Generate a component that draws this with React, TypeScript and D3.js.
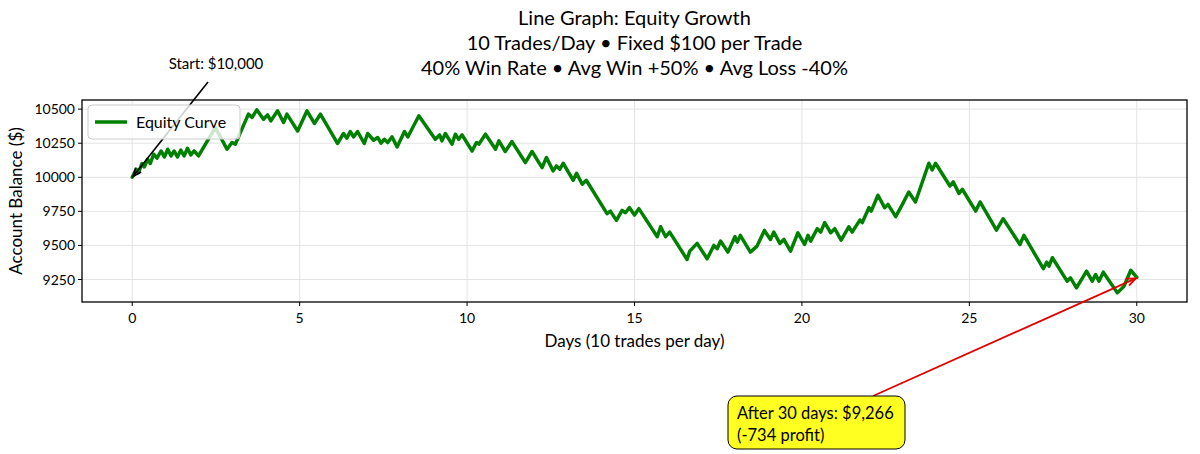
import React from "react";
import * as d3 from "d3";

// ---- data (turning points of the equity curve) ----
const days: number[] = [
  0, 0.12, 0.19, 0.29, 0.36, 0.46, 0.54, 0.64, 0.74, 0.86, 0.96, 1.06, 1.16, 1.25, 1.35, 1.45, 1.55, 1.65, 1.75, 1.85, 1.98,
  2.48, 2.83, 2.98, 3.08, 3.47, 3.58, 3.72,
  3.92, 4.04, 4.14, 4.34, 4.52, 4.62, 4.94, 5.22, 5.44, 5.62, 6.13, 6.31, 6.41, 6.51, 6.61, 6.73, 6.93, 7.03, 7.21, 7.33, 7.43,
  7.53, 7.63, 7.76, 7.91, 8.13, 8.23, 8.56, 9.05, 9.18, 9.25, 9.35, 9.55, 9.65, 9.75, 9.85, 10.15, 10.28, 10.35, 10.55, 10.85, 10.95, 11.14, 11.34,
  11.74, 11.94, 12.24, 12.37, 12.57, 12.67, 12.77, 12.87, 13.17, 13.27, 13.44, 13.56, 14.18, 14.28, 14.46, 14.63, 14.73, 14.85, 15.0, 15.13,
  15.68, 15.78, 15.93, 16.05, 16.57, 16.65, 16.87, 17.17, 17.37, 17.47, 17.57, 17.79, 18.0, 18.07, 18.16, 18.46, 18.66, 18.88, 19.06, 19.16,
  19.34, 19.46, 19.66, 19.88, 20.08, 20.18, 20.26, 20.46, 20.56, 20.68, 20.86, 20.98, 21.17, 21.4, 21.5, 21.73, 21.8, 22.0, 22.07, 22.27, 22.47, 22.57, 22.8, 23.0,
  23.19, 23.39, 23.79, 23.89, 23.99, 24.42, 24.52, 24.69, 24.79, 25.19, 25.32, 25.81, 26.01, 26.51, 26.63,
  27.21, 27.31, 27.38, 27.48, 27.92, 28.02, 28.2, 28.5, 28.67, 28.77, 28.87, 29.0, 29.42, 29.62, 29.82, 30.0,
];
const balances: number[] = [
  10000, 10059, 10035, 10101, 10076, 10132, 10101, 10169, 10140, 10193, 10149, 10206, 10157, 10193, 10149, 10199, 10157, 10213, 10164, 10193, 10157,
  10365, 10206, 10255, 10243, 10463, 10439, 10495,
  10426, 10458, 10414, 10488, 10402, 10463, 10340, 10488, 10395, 10463, 10248, 10321, 10287, 10336, 10296, 10336, 10248, 10321, 10272, 10292, 10250,
  10279, 10255, 10296, 10223, 10336, 10296, 10451, 10279, 10311, 10267, 10321, 10243, 10316, 10279, 10311, 10193, 10255, 10243, 10316, 10206, 10267, 10189, 10262,
  10108, 10189, 10071, 10145, 10047, 10083, 10059, 10103, 9978, 10029, 9949, 9978, 9733, 9752, 9684, 9757, 9740, 9777, 9723, 9770,
  9564, 9637, 9564, 9598, 9397, 9458, 9515, 9402, 9500, 9476, 9532, 9451, 9564, 9524, 9574, 9451, 9495, 9610, 9544, 9598,
  9515, 9544, 9458, 9593, 9507, 9574, 9532, 9623, 9598, 9667, 9593, 9623, 9539, 9637, 9598, 9686, 9667, 9777, 9752, 9868, 9777, 9801, 9711, 9801,
  9892, 9819, 10103, 10054, 10103, 9936, 9966, 9882, 9912, 9752, 9819, 9612, 9696, 9507, 9574,
  9329, 9377, 9348, 9410, 9238, 9262, 9189, 9311, 9238, 9287, 9238, 9304, 9152, 9201, 9318, 9266,
];
const xTicks: number[] = [0, 5, 10, 15, 20, 25, 30];
const yTicks: number[] = [9250, 9500, 9750, 10000, 10250, 10500];
const xLimits: [number, number] = [-1.5, 31.5];
const yLimits: [number, number] = [9085, 10567];
const titleLines: string[] = [
  "Line Graph: Equity Growth",
  "10 Trades/Day • Fixed $100 per Trade",
  "40% Win Rate • Avg Win +50% • Avg Loss -40%",
];
const startDay = 0;
const startValue = 10000;
const endDay = 30;
const endValue = 9266;
const startLabel = "Start: $10,000";
const endLabelLines: string[] = ["After 30 days: $9,266", "(-734 profit)"];
const legendLabel = "Equity Curve";
const xLabel = "Days (10 trades per day)";
const yLabel = "Account Balance ($)";

const FONT = "Lato, 'Noto Sans', sans-serif";
const W = 1200;
const H = 454;
const plot = { left: 82, right: 1187, top: 100, bottom: 302 };

function arrowHead(x1: number, y1: number, x2: number, y2: number, len: number, spread: number) {
  const a = Math.atan2(y2 - y1, x2 - x1);
  const p1 = [x2 - len * Math.cos(a - spread), y2 - len * Math.sin(a - spread)];
  const p2 = [x2 - len * Math.cos(a + spread), y2 - len * Math.sin(a + spread)];
  return `M${p1[0]},${p1[1]} L${x2},${y2} L${p2[0]},${p2[1]}`;
}

export default function App() {
  const x = d3.scaleLinear().domain(xLimits).range([plot.left, plot.right]);
  const y = d3.scaleLinear().domain(yLimits).range([plot.bottom, plot.top]);
  const pts: [number, number][] = days.map((d, i) => [d, balances[i]]);
  const line = d3
    .line<[number, number]>()
    .x((p) => x(p[0]))
    .y((p) => y(p[1]));

  const sx = x(startDay);
  const sy = y(startValue);
  const ex = x(endDay);
  const ey = y(endValue);
  const startFrom: [number, number] = [208, 82];
  const endFrom: [number, number] = [873, 396];

  return (
    <svg
      width={W}
      height={H}
      style={{ position: "absolute", left: 0, top: 0, background: "#fff" }}
      fontFamily={FONT}
    >
      <rect x={0} y={0} width={W} height={H} fill="#fff" />
      {/* title */}
      {titleLines.map((t, i) => (
        <text key={i} x={(plot.left + plot.right) / 2} y={25 + i * 25} textAnchor="middle" fontSize={20} fill="#000">
          {t}
        </text>
      ))}
      {/* grid */}
      {xTicks.map((t) => (
        <line key={"gx" + t} x1={x(t)} x2={x(t)} y1={plot.top} y2={plot.bottom} stroke="#e3e3e3" strokeWidth={1} />
      ))}
      {yTicks.map((t) => (
        <line key={"gy" + t} x1={plot.left} x2={plot.right} y1={y(t)} y2={y(t)} stroke="#e3e3e3" strokeWidth={1} />
      ))}
      {/* equity line */}
      <path d={line(pts) || ""} fill="none" stroke="#008000" strokeWidth={3.5} strokeLinejoin="round" strokeLinecap="round" />
      {/* start annotation arrow */}
      <line x1={startFrom[0]} y1={startFrom[1]} x2={sx + 1} y2={sy - 1} stroke="#000" strokeWidth={1.6} />
      <path d={arrowHead(startFrom[0], startFrom[1], sx + 1, sy - 1, 9, 0.4)} fill="none" stroke="#000" strokeWidth={1.6} />
      {/* legend */}
      <rect x={88} y={105} width={152} height={34} rx={4} fill="#fff" fillOpacity={0.8} stroke="#cccccc" strokeWidth={1} />
      <line x1={95} x2={127} y1={122} y2={122} stroke="#008000" strokeWidth={3.5} />
      <text x={136} y={127.5} fontSize={16} fill="#000">
        {legendLabel}
      </text>
      {/* frame */}
      <rect x={plot.left} y={plot.top} width={plot.right - plot.left} height={plot.bottom - plot.top} fill="none" stroke="#000" strokeWidth={1.3} />
      {/* x ticks */}
      {xTicks.map((t) => (
        <g key={"xt" + t}>
          <line x1={x(t)} x2={x(t)} y1={plot.bottom} y2={plot.bottom + 4} stroke="#000" strokeWidth={1} />
          <text x={x(t)} y={plot.bottom + 21} textAnchor="middle" fontSize={14} fill="#000">
            {t}
          </text>
        </g>
      ))}
      {/* y ticks */}
      {yTicks.map((t) => (
        <g key={"yt" + t}>
          <line x1={plot.left - 4} x2={plot.left} y1={y(t)} y2={y(t)} stroke="#000" strokeWidth={1} />
          <text x={plot.left - 7} y={y(t) + 5} textAnchor="end" fontSize={14} fill="#000">
            {t}
          </text>
        </g>
      ))}
      {/* axis labels */}
      <text x={(plot.left + plot.right) / 2} y={347} textAnchor="middle" fontSize={17} fill="#000">
        {xLabel}
      </text>
      <text transform={`translate(22, ${(plot.top + plot.bottom) / 2}) rotate(-90)`} textAnchor="middle" fontSize={17} fill="#000">
        {yLabel}
      </text>
      {/* start text */}
      <text x={216} y={69} textAnchor="middle" fontSize={15} fill="#000">
        {startLabel}
      </text>
      {/* end annotation */}
      <line x1={endFrom[0]} y1={endFrom[1]} x2={ex - 1} y2={ey + 1} stroke="#e00000" strokeWidth={1.8} />
      <path d={arrowHead(endFrom[0], endFrom[1], ex - 1, ey + 1, 10, 0.4)} fill="none" stroke="#e00000" strokeWidth={1.8} />
      <rect x={728} y={396} width={177} height={53} rx={9} fill="#ffff22" stroke="#000" strokeWidth={1} />
      {endLabelLines.map((t, i) => (
        <text key={i} x={737} y={419 + i * 22} fontSize={16.5} fill="#000">
          {t}
        </text>
      ))}
    </svg>
  );
}
